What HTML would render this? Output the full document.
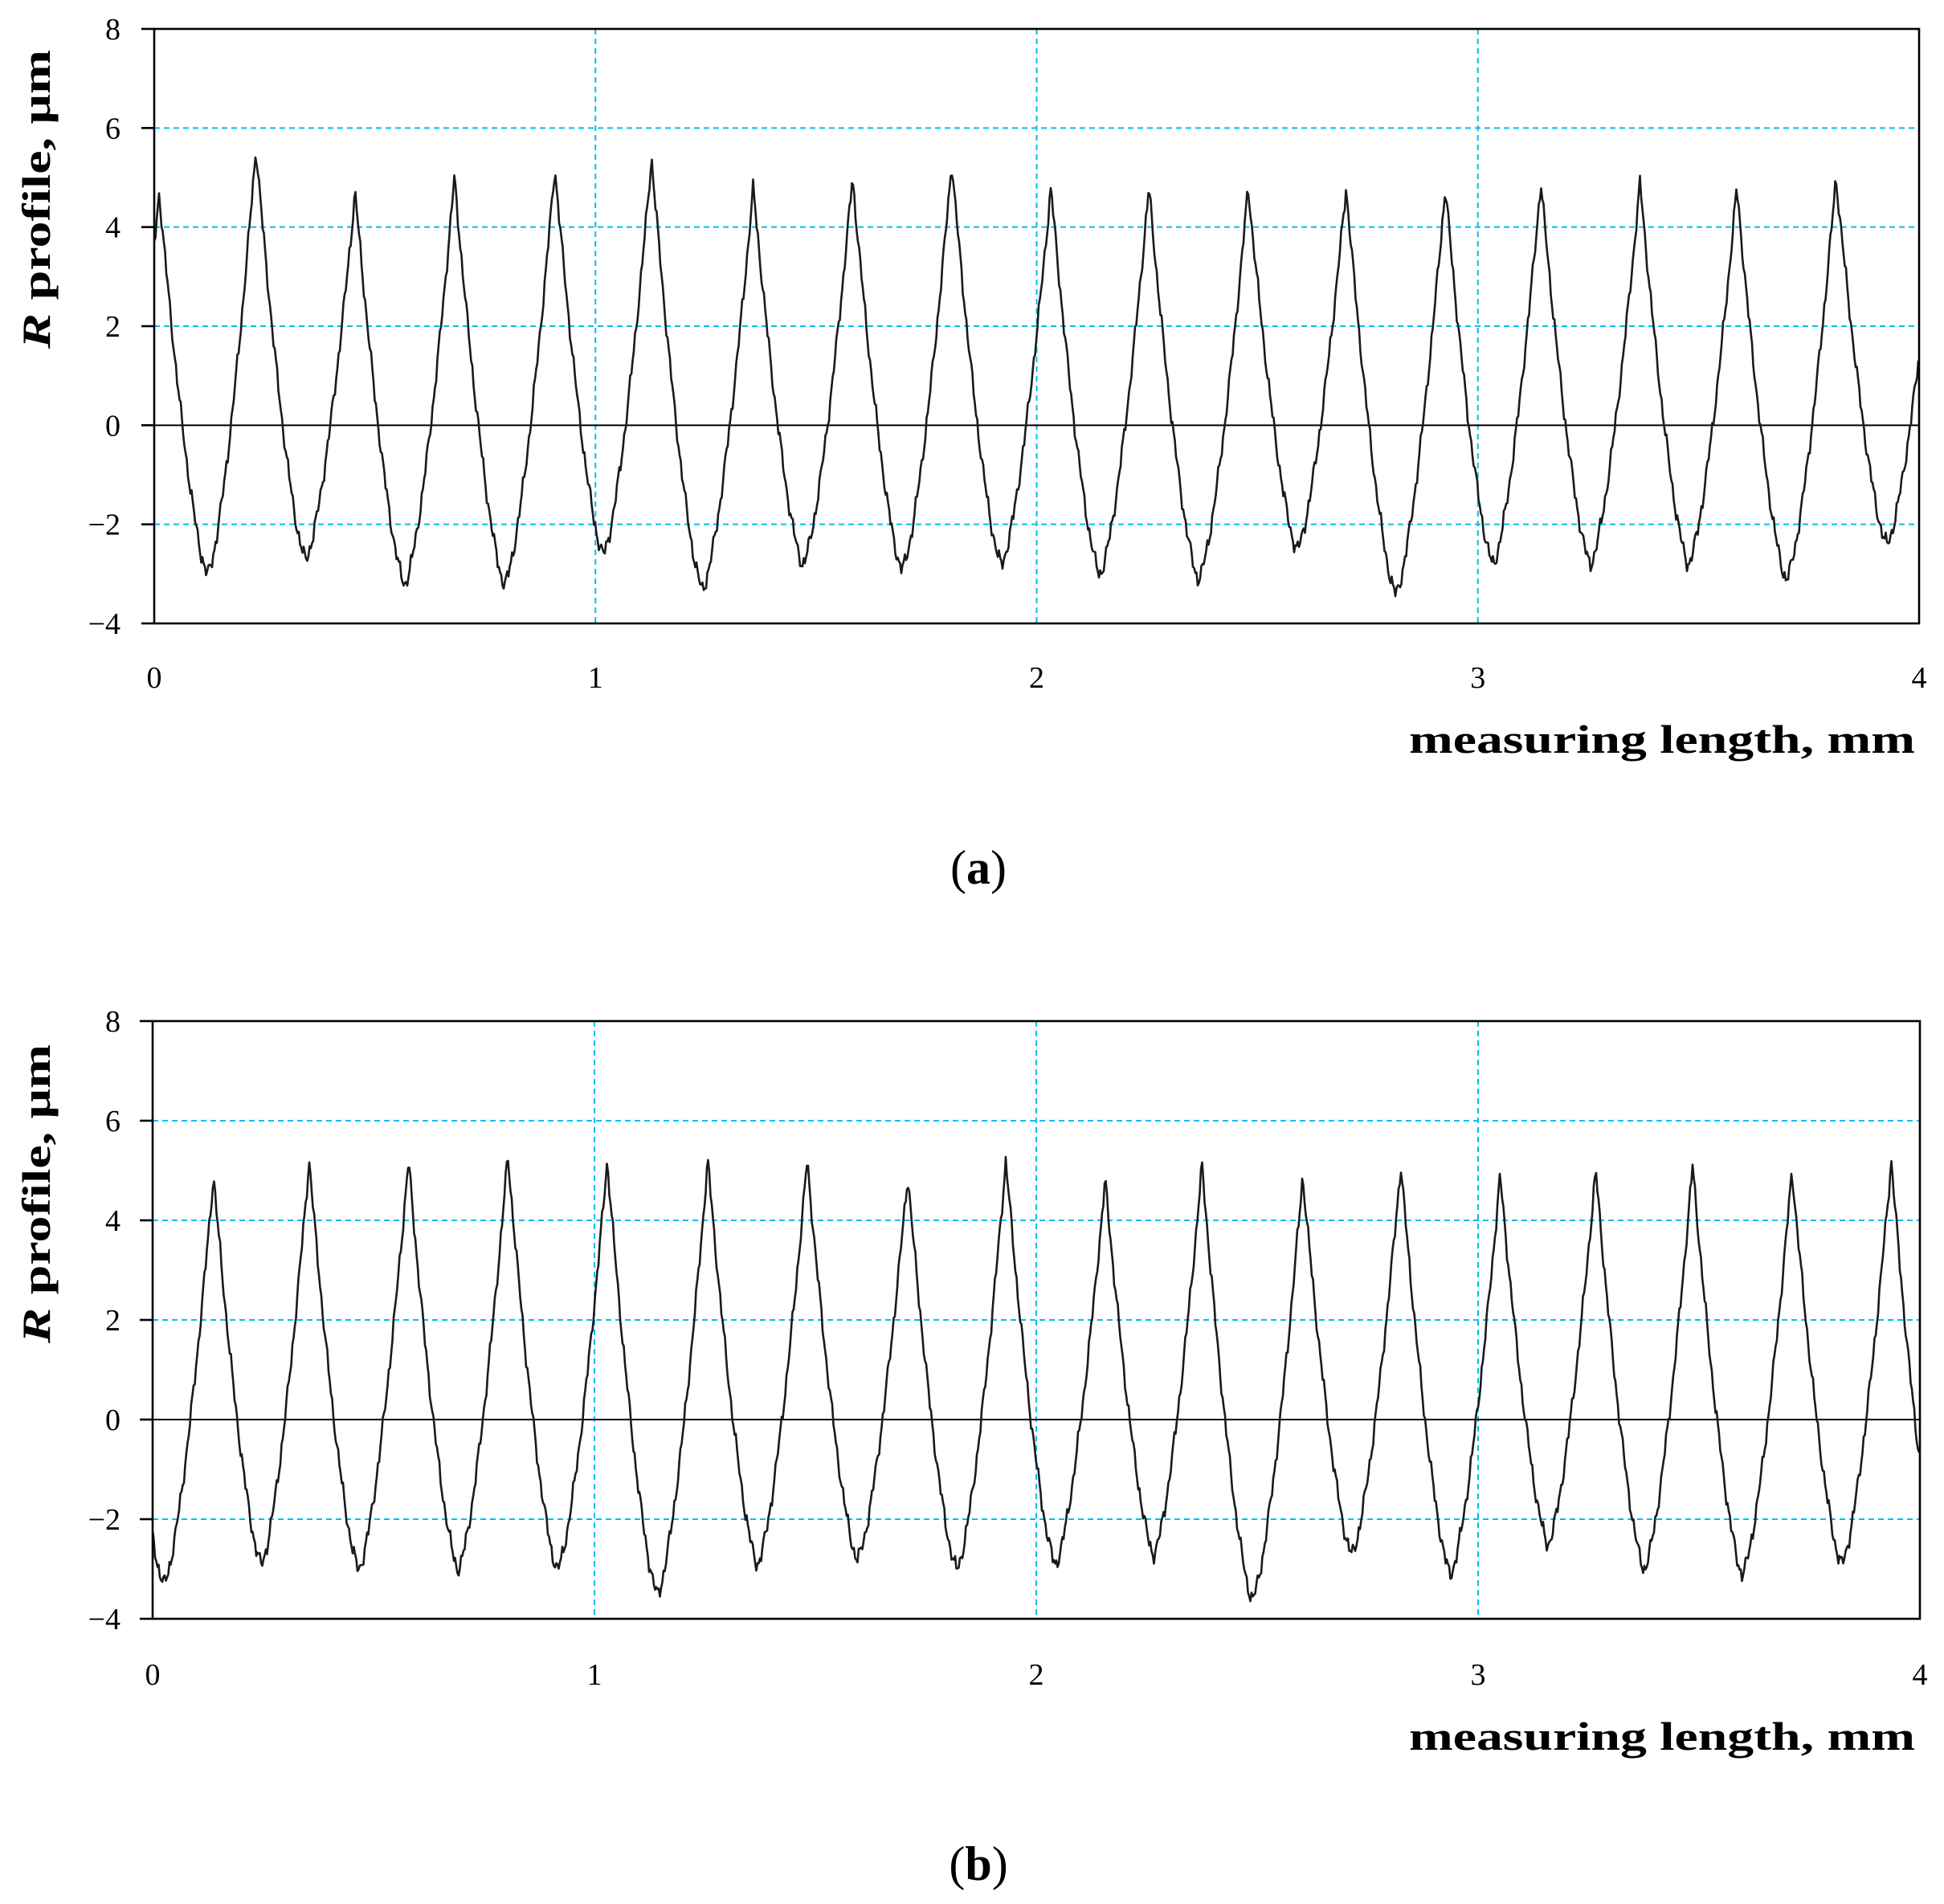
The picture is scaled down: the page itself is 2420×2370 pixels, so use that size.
<!DOCTYPE html>
<html><head><meta charset="utf-8"><style>
html,body{margin:0;padding:0;background:#fff;}
svg{display:block;}
text{font-family:"Liberation Serif",serif;fill:#000;}
</style></head><body>
<svg id="s" width="2420" height="2370" viewBox="0 0 2420 2370" xmlns="http://www.w3.org/2000/svg"></svg>
<script>
const S=document.getElementById('s');
let out='';
function chart(o){
  const {x0,x1,yt,yb}=o;
  const ys=(yb-yt)/12;
  const Y=v=>yt+(8-v)*ys;
  const X=m=>x0+(x1-x0)*m/4;
  [6,4,2,-2].forEach(v=>{out+=`<line x1="${x0}" x2="${x1}" y1="${Y(v)}" y2="${Y(v)}" stroke="#00BFF0" stroke-width="2" stroke-dasharray="7,5"/>`;});
  [1,2,3].forEach(m=>{out+=`<line x1="${X(m)}" x2="${X(m)}" y1="${yt}" y2="${yb}" stroke="#00BFF0" stroke-width="2" stroke-dasharray="7,5"/>`;});
  out+=`<line x1="${x0}" x2="${x1}" y1="${Y(0)}" y2="${Y(0)}" stroke="#000" stroke-width="2"/>`;
  const pk=o.peaks, tr=o.troughs;
  const pts=[];
  for(let px=x0;px<=x1;px+=1.5){
    const d=(px-x0)/(x1-x0)*4*355.75+o.d0;
    let i=0;
    while(i<pk.length-1 && pk[i+1][0]<d) i++;
    let a=pk[i], b=pk[i+1]||[pk[i][0]+80,pk[i][1]];
    let t=tr[i]!==undefined?tr[i]:-3;
    if(d<a[0]){b=a;a=[a[0]-80,a[1]];t=o.t0;}
    const half=(b[0]-a[0])/2, mid=a[0]+half;
    let v;
    if(d<mid){const u=(d-a[0])/half; v=t+(a[1]-t)*Math.pow(Math.max(0,1-u),1.45);}
    else {const u=(b[0]-d)/half; v=t+(b[1]-t)*Math.pow(Math.max(0,1-u),1.45);}
    v+=0.09*Math.sin(px*0.9)+0.07*Math.sin(px*0.37+o.ph)+0.05*Math.sin(px*2.3);
    pts.push(px.toFixed(1)+','+Y(v).toFixed(1));
  }
  out+=`<polyline points="${pts.join(' ')}" fill="none" stroke="#1a1a1a" stroke-width="2.6" stroke-linejoin="round"/>`;
  out+=`<rect x="${x0}" y="${yt}" width="${x1-x0}" height="${yb-yt}" fill="none" stroke="#000" stroke-width="2.6"/>`;
  for(let v=-4;v<=8;v+=2){
    out+=`<line x1="${x0-16}" x2="${x0}" y1="${Y(v)}" y2="${Y(v)}" stroke="#000" stroke-width="2.6"/>`;
    out+=`<text x="150" y="${Y(v)+13}" font-size="38" text-anchor="end">${v<0?'\u2212'+(-v):v}</text>`;
  }
  for(let m=0;m<=4;m++) out+=`<text x="${X(m)}" y="${o.tly}" font-size="38" text-anchor="middle">${m}</text>`;
  out+=`<text x="2384" y="${o.tty}" font-size="50" font-weight="bold" text-anchor="end" textLength="630" lengthAdjust="spacingAndGlyphs">measuring length, mm</text>`;
  out+=`<text transform="translate(62,${o.yc}) rotate(-90)" font-size="50" font-weight="bold" text-anchor="middle" textLength="372" lengthAdjust="spacingAndGlyphs"><tspan font-style="italic">R</tspan> profile, μm</text>`;
  out+=`<text x="1218" y="${o.ly}" font-size="60" text-anchor="middle">(<tspan font-weight="bold">${o.lab}</tspan>)</text>`;
}
chart({x0:192,x1:2389,yt:36,yb:776,d0:124,ph:0,t0:-3,
 peaks:[[128,4.7],[206,5.6],[286,4.7],[366,5.0],[447,5.2],[525,5.4],[607,4.8],[687,5.0],[767,5.3],[847,4.8],[926,4.8],[1006,4.8],[1085,4.8],[1165,4.8],[1242,4.9],[1322,4.9],[1400,4.8],[1480,5.0],[1562,5.0]],
 troughs:[-3.0,-2.7,-3.2,-3.2,-2.6,-3.3,-2.8,-2.9,-2.8,-3.0,-3.1,-2.5,-3.4,-2.8,-2.8,-2.8,-3.1,-2.4],
 tly:856,tty:937,yc:248,ly:1100,lab:'a'});
chart({x0:190,x1:2390,yt:1271,yb:2015,d0:123,ph:1.3,t0:-3.3,
 peaks:[[92,5.0],[172,4.9],[249,5.2],[329,5.2],[409,5.3],[489,5.2],[570,5.2],[650,5.2],[731,4.9],[810,5.2],[890,4.8],[968,5.1],[1049,4.9],[1128,5.1],[1208,4.9],[1285,5.0],[1363,5.1],[1443,5.0],[1523,5.2],[1590,5.0]],
 troughs:[-3.3,-2.9,-3.0,-3.0,-3.0,-3.5,-2.9,-2.8,-3.0,-2.9,-2.7,-3.6,-2.7,-3.1,-2.5,-3.0,-3.1,-2.9,-2.2],
 tly:2097,tty:2178,yc:1486,ly:2340,lab:'b'});
S.innerHTML=out;
</script>
</body></html>
